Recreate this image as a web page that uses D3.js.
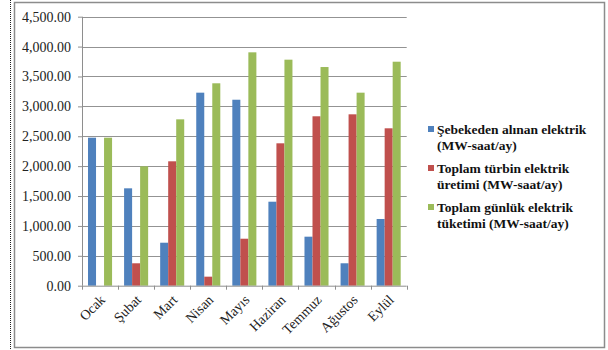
<!DOCTYPE html>
<html>
<head>
<meta charset="utf-8">
<script src="https://cdn.jsdelivr.net/npm/d3@7"></script>
<style>
  body { margin: 0; background: #fff; }
  svg { display: block; }
</style>
</head>
<body>
<div id="chart"></div>
<script>
// Aylar
const months = ['Ocak', 'Şubat', 'Mart', 'Nisan', 'Mayıs', 'Haziran', 'Temmuz', 'Ağustos', 'Eylül'];

// Seriler (MW-saat/ay)
const gridValues = [2476, 1629, 719, 3229, 3111, 1405, 820, 375, 1116];
const turbineValues = [0, 375, 2081, 151, 786, 2382, 2834, 2867, 2633];
const consumptionValues = [2476, 1997, 2783, 3386, 3904, 3781, 3658, 3229, 3747];

const seriesNames = [
    ['Şebekeden alınan elektrik', '(MW-saat/ay)'],
    ['Toplam türbin elektrik', 'üretimi (MW-saat/ay)'],
    ['Toplam günlük elektrik', 'tüketimi (MW-saat/ay)']
];
const seriesColors = ['#4F81BD', '#C0504D', '#9BBB59'];
const yTicks = [0, 500, 1000, 1500, 2000, 2500, 3000, 3500, 4000, 4500];

const series = [gridValues, turbineValues, consumptionValues];

const W = 608, H = 350;
const plot = { left: 82, right: 406.7, top: 16.7, bottom: 285.7 };
const FONT = '"Liberation Serif", "Times New Roman", serif';

const svg = d3.select('#chart').append('svg')
    .attr('width', W)
    .attr('height', H);

// dış çerçeve
svg.append('line')
    .attr('x1', 10.5).attr('x2', 10.5)
    .attr('y1', 0).attr('y2', H)
    .attr('stroke', '#222')
    .attr('stroke-dasharray', '1,1');

svg.append('rect')
    .attr('x', 14.5).attr('y', 2.5)
    .attr('width', 590).attr('height', 345)
    .attr('fill', '#fff')
    .attr('stroke', '#8c8c8c')
    .attr('stroke-width', 1.5);

// Scale
const x0 = d3.scaleBand()
    .domain(months)
    .range([plot.left, plot.right])
    .padding(0);

// gap width %150 -> kenarlarda 0.75 bar
const x1 = d3.scaleBand()
    .domain([0, 1, 2])
    .range([0, x0.bandwidth()])
    .paddingOuter(0.75)
    .paddingInner(0);

const y = d3.scaleLinear()
    .domain([0, 4500])
    .range([plot.bottom, plot.top]);

// Grid
svg.append('g')
    .selectAll('line')
    .data(yTicks.filter(d => d > 0))
    .enter()
    .append('line')
    .attr('x1', plot.left)
    .attr('x2', plot.right)
    .attr('y1', d => Math.round(y(d)) + 0.5)
    .attr('y2', d => Math.round(y(d)) + 0.5)
    .attr('stroke', '#939393')
    .attr('stroke-width', 1.2);

// Y ekseni
const yAxis = svg.append('g')
    .attr('transform', `translate(${plot.left},0)`)
    .call(d3.axisLeft(y)
        .tickValues(yTicks)
        .tickSize(4)
        .tickPadding(7)
        .tickFormat(d3.format(',.2f')));

yAxis.select('.domain').attr('stroke', '#8e8e8e').attr('d', `M0.5,${plot.top}V${plot.bottom}`);
yAxis.selectAll('.tick line').attr('stroke', '#8e8e8e');
yAxis.selectAll('.tick text')
    .attr('fill', '#222')
    .style('font-family', FONT)
    .style('font-size', '14px');

// Barlar
const groups = svg.append('g')
    .selectAll('g')
    .data(months)
    .enter()
    .append('g')
    .attr('transform', d => `translate(${x0(d)},0)`);

groups.selectAll('rect')
    .data((d, i) => series.map((s, k) => ({ k, v: s[i] })))
    .enter()
    .append('rect')
    .attr('x', d => x1(d.k))
    .attr('y', d => y(d.v))
    .attr('width', x1.bandwidth())
    .attr('height', d => y(0) - y(d.v))
    .attr('fill', d => seriesColors[d.k]);

// X ekseni
const xAxis = svg.append('g')
    .attr('transform', `translate(0,${plot.bottom})`);

xAxis.append('line')
    .attr('x1', plot.left).attr('x2', plot.right)
    .attr('y1', 0.5).attr('y2', 0.5)
    .attr('stroke', '#8e8e8e');

xAxis.selectAll('.xtick')
    .data(d3.range(months.length + 1))
    .enter()
    .append('line')
    .attr('x1', i => Math.round(plot.left + i * x0.step()) + 0.5)
    .attr('x2', i => Math.round(plot.left + i * x0.step()) + 0.5)
    .attr('y1', 0)
    .attr('y2', 4)
    .attr('stroke', '#8e8e8e');

xAxis.selectAll('.xlabel')
    .data(months)
    .enter()
    .append('text')
    .attr('transform', d => `translate(${x0(d) + x0.bandwidth() / 2 + 6},${15}) rotate(-45)`)
    .attr('text-anchor', 'end')
    .attr('fill', '#222')
    .style('font-family', FONT)
    .style('font-size', '14px')
    .text(d => d);

// Legend
const legend = svg.append('g')
    .selectAll('g')
    .data(seriesNames)
    .enter()
    .append('g')
    .attr('transform', (d, i) => `translate(428,${129 + i * 39})`);

legend.append('rect')
    .attr('x', 0)
    .attr('y', -3)
    .attr('width', 6)
    .attr('height', 6)
    .attr('fill', (d, i) => seriesColors[i]);

legend.append('text')
    .attr('x', 9)
    .attr('y', 4.5)
    .attr('fill', '#111')
    .style('font-family', FONT)
    .style('font-size', '13.5px')
    .style('font-weight', 'bold')
    .selectAll('tspan')
    .data(d => d)
    .enter()
    .append('tspan')
    .attr('x', 9)
    .attr('dy', (d, i) => i === 0 ? 0 : 16)
    .text(d => d);
</script>
</body>
</html>
